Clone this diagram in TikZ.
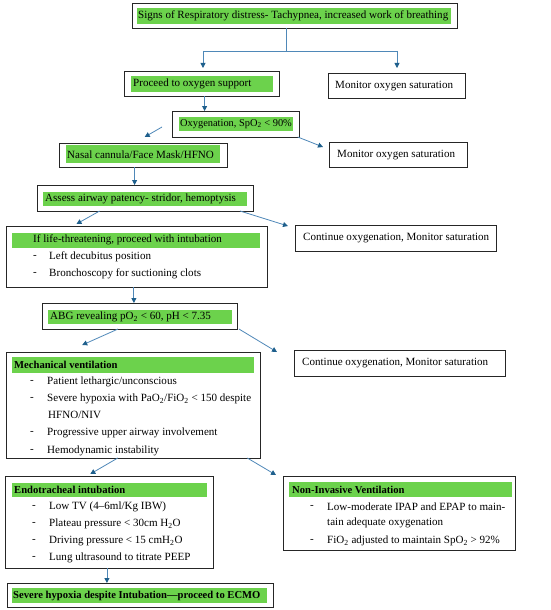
\documentclass[tikz,border=0pt]{standalone}
\usepackage{fontspec}
\setmainfont{Liberation Serif}
\usetikzlibrary{calc,arrows.meta}
\definecolor{gr}{HTML}{6CD24C}
\definecolor{ln}{HTML}{4F88B8}
\definecolor{tipc}{HTML}{1E5F8C}
\tikzset{
  box/.style={draw=black!85, line width=0.9pt, fill=white, inner sep=0pt, outer sep=0pt, anchor=north west},
  gbar/.style={fill=gr, inner sep=0pt, outer sep=0pt, anchor=north west},
  txt/.style={anchor=west, inner sep=0pt, font=\fs},
  btxt/.style={anchor=west, inner sep=0pt, font=\bfs\bfseries},
  arr/.style={draw=ln, line width=0.8pt, -{Triangle[length=5pt,width=5pt,color=tipc]}},
  lnk/.style={draw=ln, line width=0.8pt}
}
\newcommand{\fs}{\fontsize{11.05}{13}\selectfont}
\newcommand{\bfs}{\fontsize{10.6}{13}\selectfont}
\begin{document}
\begin{tikzpicture}[x=1pt,y=-1pt]
\useasboundingbox (0,0) rectangle (550,610);
% ---------- boxes ----------
\node[box, minimum width=325pt, minimum height=25pt] (b1) at (132,3) {};
\node[gbar, minimum width=314pt, minimum height=16pt] (g1) at (137,8) {};
\node[txt] (t1) at (138,16) {Signs of Respiratory distress- Tachypnea, increased work of breathing};

\node[box, minimum width=155pt, minimum height=25pt] (b2) at (124,71) {};
\node[gbar, minimum width=142pt, minimum height=16pt] (g2) at (131,76) {};
\node[txt] (t2) at (133,84) {Proceed to oxygen support};

\node[box, minimum width=137pt, minimum height=25pt] (m1) at (328,73) {};
\node[txt] (tm1) at (335,86) {Monitor oxygen saturation};

\node[box, minimum width=127pt, minimum height=26pt] (b3) at (172,111) {};
\node[gbar, minimum width=114pt, minimum height=14pt] (g3) at (179,117) {};
\node[txt, font=\fontsize{10.4}{12}\selectfont] (t3) at (180,124) {Oxygenation, SpO\textsubscript{2} < 90\%};

\node[box, minimum width=168pt, minimum height=24pt] (b4) at (59,143) {};
\node[gbar, minimum width=154pt, minimum height=18pt] (g4) at (66,145) {};
\node[txt] (t4) at (67,155) {Nasal cannula/Face Mask/HFNO};

\node[box, minimum width=138pt, minimum height=25pt] (m2) at (329,142) {};
\node[txt] (tm2) at (337,155) {Monitor oxygen saturation};

\node[box, minimum width=216pt, minimum height=26pt] (b5) at (37,185) {};
\node[gbar, minimum width=204pt, minimum height=14pt] (g5) at (43,192) {};
\node[txt] (t5) at (45,199) {Assess airway patency- stridor, hemoptysis};

\node[box, minimum width=201pt, minimum height=26pt] (c1) at (295,225) {};
\node[txt] (tc1) at (303,238) {Continue oxygenation, Monitor saturation};

\node[box, minimum width=261pt, minimum height=61pt] (b6) at (6,226) {};
\node[gbar, minimum width=248pt, minimum height=15pt] (g6) at (12,233) {};
\node[txt] (t6) at (33,240) {If life-threatening, proceed with intubation};
\node[txt] (d61) at (33,257) {-};
\node[txt] (t61) at (49,257) {Left decubitus position};
\node[txt] (d62) at (33,274) {-};
\node[txt] (t62) at (49,274) {Bronchoscopy for suctioning clots};

\node[box, minimum width=195pt, minimum height=26pt] (b7) at (42,303) {};
\node[gbar, minimum width=184pt, minimum height=14pt] (g7) at (48,310) {};
\node[txt] (t7) at (50,317) {ABG revealing pO\textsubscript{2} < 60, pH < 7.35};

\node[box, minimum width=211pt, minimum height=26pt] (c2) at (294,350) {};
\node[txt] (tc2) at (302,363) {Continue oxygenation, Monitor saturation};

\node[box, minimum width=254pt, minimum height=106pt] (b8) at (6,352) {};
\node[gbar, minimum width=242pt, minimum height=16pt] (g8) at (12,357) {};
\node[btxt] (t8) at (14,365) {Mechanical ventilation};
\node[txt] (d81) at (30,382) {-};
\node[txt] (t81) at (47,382) {Patient lethargic/unconscious};
\node[txt] (d82) at (30,399) {-};
\node[txt] (t82) at (47,399) {Severe hypoxia with PaO\textsubscript{2}/FiO\textsubscript{2} < 150 despite};
\node[txt] (t82b) at (48,415) {HFNO/NIV};
\node[txt] (d83) at (30,433) {-};
\node[txt] (t83) at (47,433) {Progressive upper airway involvement};
\node[txt] (d84) at (30,451) {-};
\node[txt] (t84) at (47,451) {Hemodynamic instability};

\node[box, minimum width=208pt, minimum height=92pt] (b9) at (5,476) {};
\node[gbar, minimum width=195pt, minimum height=14pt] (g9) at (12,483) {};
\node[btxt] (t9) at (14,490) {Endotracheal intubation};
\node[txt] (d91) at (32,507) {-};
\node[txt] (t91) at (49,507) {Low TV (4–6ml/Kg IBW)};
\node[txt] (d92) at (32,524) {-};
\node[txt] (t92) at (49,524) {Plateau pressure < 30cm H\textsubscript{2}O};
\node[txt] (d93) at (32,541) {-};
\node[txt] (t93) at (49,541) {Driving pressure < 15 cmH\textsubscript{2}O};
\node[txt] (d94) at (32,558) {-};
\node[txt] (t94) at (49,558) {Lung ultrasound to titrate PEEP};

\node[box, minimum width=232pt, minimum height=74pt] (b10) at (283,476) {};
\node[gbar, minimum width=223pt, minimum height=15pt] (g10) at (289,482) {};
\node[btxt] (t10) at (292,490) {Non-Invasive Ventilation};
\node[txt] (d101) at (310,507) {-};
\node[txt] (t101) at (327,507) {Low-moderate IPAP and EPAP to main-};
\node[txt] (t101b) at (327,523) {tain adequate oxygenation};
\node[txt] (d102) at (310,541) {-};
\node[txt] (t102) at (327,541) {FiO\textsubscript{2} adjusted to maintain SpO\textsubscript{2} > 92\%};

\node[box, minimum width=266pt, minimum height=24pt] (b11) at (7,583) {};
\node[gbar, minimum width=255pt, minimum height=15pt] (g11) at (12,588) {};
\node[btxt] (t11) at (13,596) {Severe hypoxia despite Intubation—proceed to ECMO};

% ---------- connectors ----------
\coordinate (s1) at ($(b1.south west)!0.474!(b1.south east)$);
\coordinate (j1) at ($(s1)+(0,23)$);
\coordinate (jl) at (203,51);
\coordinate (jr) at (397,51);
\coordinate (e1) at ($(jl |- b2.north)+(0,-3)$);
\coordinate (e2) at ($(jr |- m1.north)+(0,-5)$);
\draw[lnk] (s1) -- (j1);
\draw[lnk] (jl) -- (jr);
\draw[arr] (jl) -- (e1);
\draw[arr] (jr) -- (e2);
\coordinate (s2) at ($(b2.south west)!0.52!(b2.south east)$);
\draw[arr] (s2) -- (s2 |- b3.north);
\coordinate (s3) at (162,127);
\draw[arr] (s3) -- ($(b4.north west)!0.51!(b4.north east)+(0,-6)$);
\draw[arr] ($(b3.south west)!0.99!(b3.south east)$) -- ($(m2.north west)+(-6,5)$);
\coordinate (s4) at ($(b4.south west)!0.45!(b4.south east)$);
\draw[arr] (s4) -- (s4 |- b5.north);
\draw[arr] ($(b5.south west)!0.29!(b5.south east)$) -- ($(b6.north west)!0.27!(b6.north east)+(0,-2)$);
\draw[arr] ($(b5.south west)!0.94!(b5.south east)$) -- ($(c1.north west)+(-7,1)$);
\coordinate (s6) at ($(b6.south west)!0.49!(b6.south east)$);
\draw[arr] (s6) -- (s6 |- b7.north);
\draw[arr] ($(b7.south west)!0.39!(b7.south east)$) -- ($(b8.north west)!0.30!(b8.north east)+(0,-7)$);
\draw[arr] ($(b7.south west)!1.01!(b7.south east)$) -- ($(c2.north west)+(-17,2)$);
\draw[arr] ($(b8.south west)!0.44!(b8.south east)$) -- ($(b9.north west)!0.41!(b9.north east)+(0,-2)$);
\draw[arr] ($(b8.south west)!0.95!(b8.south east)$) -- ($(b10.north west)+(-7,-1)$);
\coordinate (s9) at ($(b9.south west)!0.49!(b9.south east)$);
\draw[arr] (s9) -- (s9 |- b11.north);
\end{tikzpicture}
\end{document}
